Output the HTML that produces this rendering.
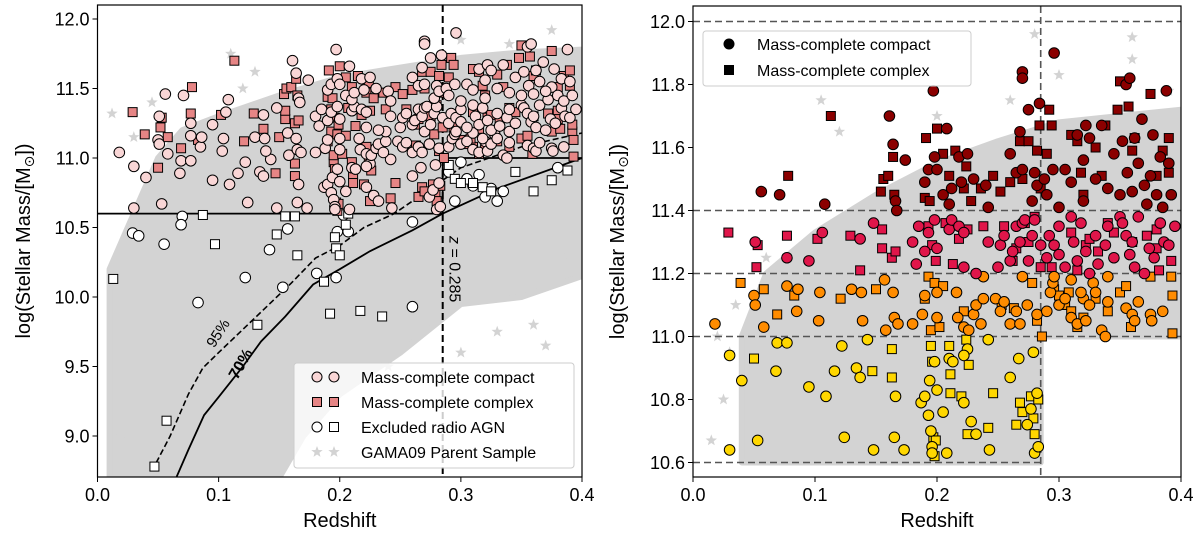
<!DOCTYPE html>
<html><head><meta charset="utf-8">
<style>
html,body{margin:0;padding:0;background:#fff;}
svg{display:block;font-family:"Liberation Sans","DejaVu Sans",sans-serif;}
</style></head>
<body>
<svg id="fig" width="1200" height="533" viewBox="0 0 1200 533" xmlns="http://www.w3.org/2000/svg"></svg>
<script>
// ---------- DATA ----------
const xTicks = [0.0, 0.1, 0.2, 0.3, 0.4];
const xTickLabels = ["0.0", "0.1", "0.2", "0.3", "0.4"];
const leftYTicks = [9.0, 9.5, 10.0, 10.5, 11.0, 11.5, 12.0];
const leftYTickLabels = ["9.0", "9.5", "10.0", "10.5", "11.0", "11.5", "12.0"];
const rightYTicks = [10.6, 10.8, 11.0, 11.2, 11.4, 11.6, 11.8, 12.0];
const rightYTickLabels = ["10.6", "10.8", "11.0", "11.2", "11.4", "11.6", "11.8", "12.0"];
const massBins = [11.0, 11.2, 11.4];
const binColors = ["#ffd700", "#ff8c00", "#e0164a", "#8b0000"];
const zCut = 0.285;

const compactPoints = [
[0.03,10.94],[0.04,10.86],[0.03,10.64],[0.053,10.67],[0.069,10.98],[0.068,10.89],[0.077,10.98],[0.095,10.84],[0.109,10.81],[0.116,10.89],[0.122,10.97],[0.124,10.68],[0.134,10.90],[0.137,10.87],[0.143,10.99],[0.148,10.64],[0.165,10.68],[0.166,10.81],[0.173,10.64],[0.187,10.79],[0.19,10.81],[0.193,10.75],[0.194,10.86],[0.195,10.70],[0.196,10.65],[0.196,10.63],[0.2,10.83],[0.205,10.76],[0.208,10.63],[0.21,10.93],[0.213,10.92],[0.222,10.79],[0.225,10.96],[0.228,10.73],[0.232,10.69],[0.242,10.99],[0.243,10.64],[0.26,10.87],[0.267,10.93],[0.274,10.72],[0.277,10.77],[0.279,10.95],[0.28,10.63],[0.282,10.82],[0.283,10.65],[0.198,10.92],[0.222,10.94],
[0.018,11.04],[0.05,11.13],[0.051,11.10],[0.058,11.03],[0.077,11.16],[0.085,11.08],[0.086,11.15],[0.103,11.05],[0.104,11.14],[0.13,11.15],[0.138,11.14],[0.139,11.05],[0.157,11.18],[0.158,11.02],[0.164,11.14],[0.165,11.06],[0.168,11.04],[0.18,11.04],[0.188,11.07],[0.19,11.13],[0.2,11.06],[0.2,11.14],[0.216,11.14],[0.217,11.06],[0.222,11.03],[0.226,11.02],[0.23,11.07],[0.232,11.10],[0.236,11.04],[0.238,11.12],[0.238,11.19],[0.248,11.12],[0.252,11.08],[0.255,11.11],[0.26,11.04],[0.265,11.08],[0.268,11.04],[0.27,11.19],[0.274,11.10],[0.282,11.07],[0.29,11.08],[0.293,11.14],[0.295,11.17],[0.296,11.19],[0.3,11.10],[0.305,11.12],[0.31,11.06],[0.315,11.04],[0.32,11.12],[0.322,11.05],[0.325,11.10],[0.328,11.17],[0.33,11.14],[0.335,11.02],[0.338,11.00],[0.34,11.19],[0.34,11.11],[0.355,11.09],[0.36,11.07],[0.362,11.05],[0.365,11.11],[0.375,11.07],[0.376,11.05],[0.385,11.08],[0.31,11.18],[0.318,11.14],
[0.051,11.30],[0.077,11.25],[0.095,11.24],[0.106,11.33],[0.137,11.31],[0.148,11.36],[0.18,11.30],[0.183,11.23],[0.185,11.35],[0.19,11.27],[0.193,11.33],[0.198,11.37],[0.2,11.28],[0.21,11.34],[0.212,11.37],[0.218,11.35],[0.222,11.22],[0.222,11.33],[0.232,11.20],[0.242,11.30],[0.25,11.22],[0.252,11.29],[0.255,11.32],[0.26,11.24],[0.262,11.27],[0.265,11.35],[0.268,11.30],[0.27,11.36],[0.272,11.37],[0.275,11.24],[0.278,11.32],[0.28,11.37],[0.285,11.29],[0.29,11.25],[0.292,11.32],[0.296,11.29],[0.3,11.26],[0.305,11.22],[0.31,11.38],[0.312,11.30],[0.315,11.24],[0.318,11.36],[0.322,11.27],[0.325,11.20],[0.33,11.32],[0.332,11.23],[0.338,11.29],[0.345,11.25],[0.35,11.38],[0.352,11.36],[0.355,11.32],[0.358,11.26],[0.36,11.30],[0.362,11.22],[0.365,11.38],[0.37,11.20],[0.374,11.28],[0.378,11.25],[0.383,11.36],[0.386,11.30],[0.39,11.29],[0.395,11.35],[0.34,11.35],[0.30,11.35],
[0.056,11.46],[0.071,11.45],[0.108,11.42],[0.161,11.70],[0.164,11.61],[0.166,11.43],[0.167,11.40],[0.174,11.56],[0.19,11.49],[0.193,11.53],[0.197,11.78],[0.198,11.57],[0.2,11.53],[0.205,11.45],[0.208,11.66],[0.21,11.42],[0.212,11.47],[0.218,11.57],[0.22,11.49],[0.225,11.58],[0.23,11.50],[0.24,11.48],[0.242,11.41],[0.26,11.58],[0.265,11.52],[0.268,11.65],[0.27,11.84],[0.27,11.82],[0.27,11.53],[0.275,11.72],[0.278,11.43],[0.28,11.52],[0.282,11.48],[0.284,11.74],[0.288,11.50],[0.29,11.45],[0.295,11.53],[0.296,11.90],[0.3,11.41],[0.305,11.53],[0.31,11.49],[0.315,11.64],[0.32,11.56],[0.322,11.67],[0.325,11.63],[0.33,11.50],[0.335,11.67],[0.34,11.47],[0.345,11.58],[0.35,11.45],[0.352,11.62],[0.355,11.80],[0.356,11.52],[0.358,11.82],[0.36,11.46],[0.362,11.63],[0.365,11.55],[0.368,11.69],[0.372,11.42],[0.375,11.51],[0.377,11.64],[0.38,11.45],[0.383,11.57],[0.385,11.41],[0.388,11.78],[0.39,11.55],[0.392,11.45],[0.37,11.48],[0.32,11.43]
];
const complexPoints = [
[0.05,10.93],[0.147,10.89],[0.163,10.96],[0.163,10.87],[0.195,10.97],[0.196,10.92],[0.197,10.68],[0.198,10.62],[0.21,10.97],[0.211,10.88],[0.211,10.82],[0.22,10.81],[0.224,10.99],[0.226,10.91],[0.225,10.69],[0.242,10.71],[0.246,10.82],[0.265,10.72],[0.268,10.79],[0.27,10.76],[0.277,10.81],[0.279,10.74],[0.28,10.69],[0.283,10.80],[0.199,10.67],
[0.039,11.17],[0.058,11.15],[0.069,11.07],[0.083,11.13],[0.121,11.12],[0.15,11.15],[0.19,11.12],[0.193,11.19],[0.195,11.02],[0.198,11.17],[0.202,11.03],[0.205,11.16],[0.222,11.08],[0.253,11.10],[0.263,11.09],[0.282,11.05],[0.286,11.00],[0.296,11.15],[0.3,11.13],[0.305,11.10],[0.31,11.08],[0.315,11.03],[0.32,11.06],[0.33,11.12],[0.34,11.08],[0.35,11.14],[0.355,11.16],[0.359,11.03],[0.375,11.19],[0.392,11.19],[0.393,11.13],[0.393,11.01],[0.278,11.17],[0.308,11.14],
[0.029,11.33],[0.053,11.29],[0.052,11.22],[0.077,11.32],[0.102,11.31],[0.129,11.32],[0.137,11.21],[0.155,11.28],[0.155,11.34],[0.163,11.25],[0.166,11.27],[0.193,11.35],[0.196,11.29],[0.199,11.24],[0.207,11.36],[0.213,11.23],[0.218,11.31],[0.225,11.34],[0.238,11.35],[0.255,11.35],[0.262,11.24],[0.265,11.28],[0.272,11.36],[0.275,11.30],[0.28,11.38],[0.285,11.22],[0.294,11.22],[0.31,11.33],[0.315,11.21],[0.322,11.29],[0.325,11.31],[0.34,11.36],[0.345,11.33],[0.36,11.30],[0.372,11.32],[0.38,11.34],[0.382,11.21],[0.392,11.24],[0.38,11.28],[0.332,11.27],
[0.078,11.51],[0.113,11.70],[0.154,11.46],[0.156,11.50],[0.16,11.51],[0.164,11.57],[0.165,11.45],[0.19,11.44],[0.191,11.63],[0.194,11.43],[0.2,11.66],[0.205,11.58],[0.21,11.51],[0.215,11.59],[0.222,11.47],[0.224,11.54],[0.228,11.43],[0.236,11.47],[0.246,11.51],[0.252,11.46],[0.26,11.49],[0.268,11.62],[0.27,11.50],[0.275,11.62],[0.282,11.59],[0.284,11.67],[0.285,11.47],[0.29,11.58],[0.292,11.72],[0.294,11.67],[0.31,11.64],[0.315,11.62],[0.318,11.52],[0.32,11.45],[0.33,11.60],[0.335,11.51],[0.338,11.67],[0.348,11.72],[0.35,11.81],[0.357,11.73],[0.36,11.59],[0.362,11.63],[0.375,11.77],[0.38,11.51],[0.385,11.59],[0.39,11.63],[0.39,11.52]
];
const agnCompact = [[0.029,10.46],[0.034,10.44],[0.055,10.38],[0.07,10.58],[0.069,10.52],[0.083,9.96],[0.122,10.14],[0.142,10.34],[0.153,10.07],[0.157,10.49],[0.181,10.17],[0.197,10.14],[0.198,10.47],[0.203,10.59],[0.207,10.47],[0.26,10.54],[0.26,9.93],[0.295,10.69],[0.3,10.97],[0.31,10.8],[0.315,10.88],[0.32,10.72],[0.33,10.69],[0.335,10.76],[0.38,10.93],[0.29,10.9],[0.305,10.85],[0.325,10.78]];
const agnComplex = [[0.013,10.13],[0.047,8.78],[0.057,9.11],[0.087,10.59],[0.097,10.38],[0.132,9.8],[0.148,10.45],[0.155,10.58],[0.163,10.58],[0.165,10.3],[0.187,10.11],[0.192,9.88],[0.196,10.43],[0.197,10.35],[0.2,10.3],[0.205,10.52],[0.207,10.6],[0.217,9.9],[0.235,9.86],[0.29,10.95],[0.295,10.85],[0.3,10.82],[0.31,10.82],[0.318,10.79],[0.325,10.76],[0.345,10.9],[0.36,10.76],[0.375,10.84],[0.388,10.91]];
const limit70 = [[0.065,8.7],[0.075,8.9],[0.088,9.15],[0.1,9.28],[0.12,9.5],[0.135,9.68],[0.155,9.86],[0.178,10.09],[0.2,10.2],[0.225,10.33],[0.26,10.48],[0.285,10.6],[0.33,10.78],[0.4,11.0]];
const limit95 = [[0.045,8.75],[0.06,9.0],[0.075,9.3],[0.087,9.49],[0.1,9.6],[0.13,9.85],[0.16,10.1],[0.18,10.28],[0.2,10.37],[0.22,10.5],[0.245,10.6],[0.27,10.75],[0.3,10.93],[0.35,11.08],[0.4,11.18]];
const parentCloudLeft = [[0.01,8.7],[0.01,10.2],[0.03,10.6],[0.05,11.0],[0.07,11.2],[0.1,11.3],[0.15,11.45],[0.2,11.58],[0.25,11.65],[0.3,11.72],[0.35,11.76],[0.4,11.78],[0.4,10.15],[0.35,10.0],[0.3,9.95],[0.25,9.6],[0.2,9.3],[0.17,9.0],[0.15,8.7]];
const parentCloudRight = [[0.04,10.6],[0.04,11.0],[0.06,11.2],[0.1,11.33],[0.15,11.45],[0.2,11.55],[0.25,11.62],[0.3,11.68],[0.35,11.7],[0.4,11.72],[0.4,11.0],[0.285,11.0],[0.285,10.6]];
const parentStarsLeft = [[0.012,11.32],[0.03,11.15],[0.045,11.4],[0.11,11.75],[0.13,11.62],[0.16,9.2],[0.19,9.3],[0.24,9.5],[0.3,9.6],[0.33,9.75],[0.36,9.8],[0.37,9.65],[0.38,10.15],[0.375,11.92],[0.3,11.85],[0.39,10.3],[0.02,9.0],[0.03,9.3],[0.34,11.82],[0.12,11.5]];
const parentStarsRight = [[0.015,10.67],[0.02,11.0],[0.03,10.95],[0.06,11.25],[0.12,11.65],[0.105,11.75],[0.28,11.96],[0.36,11.95],[0.36,11.88],[0.3,11.83],[0.39,11.78],[0.025,10.8],[0.035,11.1],[0.26,11.75],[0.2,11.7]];

// ---------- HELPERS ----------
const NS = "http://www.w3.org/2000/svg";
const svg = document.getElementById("fig");
function mk(tag, attrs, parent) {
  const e = document.createElementNS(NS, tag);
  for (const k in attrs) e.setAttribute(k, attrs[k]);
  (parent || svg).appendChild(e);
  return e;
}
function binColor(m) {
  let i = 0;
  while (i < massBins.length && m >= massBins[i]) i++;
  return binColors[i];
}
function starPath(cx, cy, r) {
  let d = "";
  for (let i = 0; i < 10; i++) {
    const a = -Math.PI / 2 + i * Math.PI / 5;
    const rr = i % 2 ? r * 0.42 : r;
    d += (i ? "L" : "M") + (cx + rr * Math.cos(a)).toFixed(1) + " " + (cy + rr * Math.sin(a)).toFixed(1);
  }
  return d + "Z";
}

function makePanel(cfg) {
  const X = z => cfg.x0 + (z - 0) / 0.4 * (cfg.x1 - cfg.x0);
  const Y = m => cfg.ya + (cfg.ma - m) / (cfg.ma - cfg.mb) * (cfg.yb - cfg.ya);
  const g = mk("g", {});
  
  
  const clipId = cfg.name + "-clip";
  const cp = mk("clipPath", { id: clipId }, g);
  mk("rect", { x: cfg.x0, y: cfg.top, width: cfg.x1 - cfg.x0, height: cfg.bot - cfg.top }, cp);
  const plot = mk("g", { "clip-path": "url(#" + clipId + ")" }, g);
  
  
  return { X, Y, g, plot };
}

function drawAxes(p, cfg, yTicks, yLabels) {
  const g = p.g;
  xTicks.forEach((t, i) => {
    const x = p.X(t);
    mk("line", { x1: x, x2: x, y1: cfg.bot, y2: cfg.bot + 5, stroke: "#000", "stroke-width": 1 }, g);
    const tx = mk("text", { x: x, y: cfg.bot + 24, "text-anchor": "middle", "font-size": 18 }, g);
    tx.textContent = xTickLabels[i];
    
    
  });
  yTicks.forEach((t, i) => {
    const y = p.Y(t);
    mk("line", { x1: cfg.x0 - 5, x2: cfg.x0, y1: y, y2: y, stroke: "#000", "stroke-width": 1 }, g);
    const tx = mk("text", { x: cfg.x0 - 8, y: y + 6.5, "text-anchor": "end", "font-size": 18 }, g);
    tx.textContent = yLabels[i];
    
    
  });
  const fr = mk("rect", { x: cfg.x0, y: cfg.top, width: cfg.x1 - cfg.x0, height: cfg.bot - cfg.top, fill: "none", stroke: "#000", "stroke-width": 1.2 }, g);
  
  
  const xl = mk("text", { x: (cfg.x0 + cfg.x1) / 2, y: 527, "text-anchor": "middle", "font-size": 20 }, g);
  xl.textContent = "Redshift";
  
  
  const yc = (cfg.top + cfg.bot) / 2;
  const yl = mk("text", { x: cfg.ylabX, y: yc, "text-anchor": "middle", "font-size": 20, transform: "rotate(-90 " + cfg.ylabX + " " + yc + ")" }, g);
  yl.innerHTML = 'log(Stellar Mass/[M<tspan font-size="14" dy="4">\u2299</tspan><tspan dy="-4">])</tspan>';
  
  
}

function drawCloud(p, poly, stars) {
  const d = poly.map((q, i) => (i ? "L" : "M") + p.X(q[0]).toFixed(1) + " " + p.Y(q[1]).toFixed(1)).join("") + "Z";
  const c = mk("path", { d: d, fill: "#d3d3d3", stroke: "#d3d3d3", "stroke-width": 6, "stroke-linejoin": "round" }, p.plot);
  
  
  stars.forEach(s => {
    const st = mk("path", { d: starPath(p.X(s[0]), p.Y(s[1]), 6), fill: "#d3d3d3" }, p.plot);
    
    
  });
}

function circle(parent, x, y, fill, r) {
  const c = mk("circle", { cx: x, cy: y, r: r || 5.3, fill: fill, stroke: "#000", "stroke-width": 1 }, parent);
  return c;
}
function square(parent, x, y, fill, s) {
  s = s || 9;
  return mk("rect", { x: x - s / 2, y: y - s / 2, width: s, height: s, fill: fill, stroke: "#000", "stroke-width": 1 }, parent);
}

// ---------- LEFT PANEL ----------
const L = { name: "left-panel", x0: 97.5, x1: 582, top: 5, bot: 477, ma: 12.0, ya: 19, mb: 9.0, yb: 436, ylabX: 30 };
const pl = makePanel(L);
drawCloud(pl, parentCloudLeft, parentStarsLeft);
// limits
const hl1 = mk("polyline", { points: [[0, 10.6], [zCut, 10.6], [zCut, 11.0], [0.4, 11.0]].map(q => pl.X(q[0]) + "," + pl.Y(q[1])).join(" "), fill: "none", stroke: "#000", "stroke-width": 1.8 }, pl.plot);


const vcut = mk("line", { x1: pl.X(zCut), x2: pl.X(zCut), y1: L.top, y2: L.bot, stroke: "#000", "stroke-width": 2, "stroke-dasharray": "7,4" }, pl.plot);


const l70 = mk("polyline", { points: limit70.map(q => pl.X(q[0]) + "," + pl.Y(q[1])).join(" "), fill: "none", stroke: "#000", "stroke-width": 1.8 }, pl.plot);


const l95 = mk("polyline", { points: limit95.map(q => pl.X(q[0]) + "," + pl.Y(q[1])).join(" "), fill: "none", stroke: "#000", "stroke-width": 1.6, "stroke-dasharray": "6,3" }, pl.plot);


// AGN
agnCompact.forEach(q => {
  const c = circle(pl.plot, pl.X(q[0]), pl.Y(q[1]), "#fff");
  
  
});
agnComplex.forEach(q => {
  const c = square(pl.plot, pl.X(q[0]), pl.Y(q[1]), "#fff");
  
  
});
complexPoints.forEach(q => {
  const c = square(pl.plot, pl.X(q[0]), pl.Y(q[1]), "#e68585");
  
  
});
compactPoints.forEach(q => {
  const c = circle(pl.plot, pl.X(q[0]), pl.Y(q[1]), "#f9d6d6");
  
  
});
// annotations
{
  const zx = pl.X(zCut) + 7, zy = pl.Y(10.2);
  const t = mk("text", { x: zx, y: zy, "text-anchor": "middle", "font-size": 16, transform: "rotate(90 " + zx + " " + zy + ")" }, pl.g);
  t.innerHTML = '<tspan font-style="italic">z</tspan> = 0.285';
  
  
  const ax = pl.X(0.103), ay = pl.Y(9.72);
  const t2 = mk("text", { x: ax, y: ay, "text-anchor": "middle", "font-size": 15, transform: "rotate(-57 " + ax + " " + ay + ")" }, pl.g);
  t2.textContent = "95%";
  
  
  const bx = pl.X(0.122), by = pl.Y(9.5);
  const t3 = mk("text", { x: bx, y: by, "text-anchor": "middle", "font-size": 16, "font-weight": "bold", transform: "rotate(-60 " + bx + " " + by + ")" }, pl.g);
  t3.textContent = "70%";
  
  
}
drawAxes(pl, L, leftYTicks, leftYTickLabels);
// left legend
{
  const lg = mk("g", {});
  
  
  mk("rect", { x: 294, y: 363, width: 280, height: 105, rx: 3, fill: "#fff", "fill-opacity": 0.8, stroke: "#ccc", "stroke-width": 1 }, lg);
  const rows = ["Mass-complete compact", "Mass-complete complex", "Excluded radio AGN", "GAMA09 Parent Sample"];
  rows.forEach((txt, i) => {
    const y = 377 + i * 25;
    const e = mk("g", {}, lg);
    
    
    if (i === 0) { circle(e, 317, y, "#f9d6d6", 5); circle(e, 334, y, "#f9d6d6", 5); }
    if (i === 1) { square(e, 317, y, "#e68585"); square(e, 334, y, "#e68585"); }
    if (i === 2) { circle(e, 317, y, "#fff", 5); square(e, 334, y, "#fff"); }
    if (i === 3) { mk("path", { d: starPath(317, y, 6), fill: "#d3d3d3" }, e); mk("path", { d: starPath(334, y, 6), fill: "#d3d3d3" }, e); }
    const t = mk("text", { x: 361, y: y + 6, "font-size": 16 }, e);
    t.textContent = txt;
  });
}

// ---------- RIGHT PANEL ----------
const R = { name: "right-panel", x0: 693, x1: 1181, top: 6, bot: 477, ma: 12.0, ya: 21.5, mb: 10.6, yb: 462.5, ylabX: 624 };
const pr = makePanel(R);
drawCloud(pr, parentCloudRight, parentStarsRight);
const gridDefs = [[12.0, 0, 0.4], [11.4, 0, 0.4], [11.2, 0, 0.4], [11.0, 0, 0.4], [10.6, 0, zCut]];
gridDefs.forEach(gd => {
  const ln = mk("line", { x1: pr.X(gd[1]), x2: pr.X(gd[2]), y1: pr.Y(gd[0]), y2: pr.Y(gd[0]), stroke: "#555", "stroke-width": 1.6, "stroke-dasharray": "7,4" }, pr.plot);
  
  
});
{
  const ln = mk("line", { x1: pr.X(zCut), x2: pr.X(zCut), y1: R.top, y2: R.bot, stroke: "#555", "stroke-width": 1.6, "stroke-dasharray": "7,4" }, pr.plot);
  
  
}
complexPoints.forEach(q => {
  const c = square(pr.plot, pr.X(q[0]), pr.Y(q[1]), binColor(q[1]));
  
  
});
compactPoints.forEach(q => {
  const c = circle(pr.plot, pr.X(q[0]), pr.Y(q[1]), binColor(q[1]));
  
  
});
drawAxes(pr, R, rightYTicks, rightYTickLabels);
{
  const lg = mk("g", {});
  
  
  mk("rect", { x: 703, y: 31, width: 268, height: 55, rx: 3, fill: "#fff", "fill-opacity": 0.8, stroke: "#ccc", "stroke-width": 1 }, lg);
  const e1 = mk("g", {}, lg);
  
  
  mk("circle", { cx: 729, cy: 44, r: 5.5, fill: "#000" }, e1);
  const t1 = mk("text", { x: 757, y: 50, "font-size": 16 }, e1);
  t1.textContent = "Mass-complete compact";
  const e2 = mk("g", {}, lg);
  
  
  mk("rect", { x: 724, y: 65, width: 10, height: 10, fill: "#000" }, e2);
  const t2 = mk("text", { x: 757, y: 76, "font-size": 16 }, e2);
  t2.textContent = "Mass-complete complex";
}
</script>
</body></html>
